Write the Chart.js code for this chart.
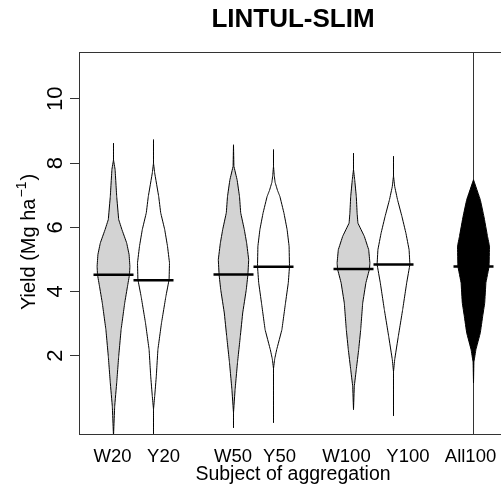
<!DOCTYPE html>
<html>
<head>
<meta charset="utf-8">
<script src="https://cdn.jsdelivr.net/npm/chart.js@4/dist/chart.umd.min.js"></script>
<style>
  html, body { margin: 0; padding: 0; background: #fff; overflow: hidden; }
  canvas { display: block; }
</style>
</head>
<body>
<canvas id="chart" width="520" height="491"></canvas>
<script>
const groups = ['W20', 'Y20', 'W50', 'Y50', 'W100', 'Y100', 'All100'];
const groupPos = [1, 2, 4, 5, 7, 8, 10];
const labelPos = [0.975, 2.25, 3.99, 5.15, 6.825, 8.36, 9.925];
const medians = [4.52, 4.35, 4.53, 4.77, 4.70, 4.84, 4.78];
const yTicks = [2, 4, 6, 8, 10];

// bean outlines: yield level and half width of the density at that level
const w20Yield = [-0.5, 0.43, 1.15, 1.98, 2.81, 3.64, 4.16, 4.52, 4.78, 5.15, 5.51, 5.93, 6.24, 6.96, 7.8, 8.1, 8.62];
const w20Dens = [0, 0.03, 0.08, 0.13, 0.19, 0.28, 0.35, 0.4, 0.41, 0.39, 0.33, 0.21, 0.13, 0.08, 0.04, 0, 0];
const y20Yield = [-0.5, 0.33, 0.74, 1.36, 2.19, 3.02, 3.85, 4.37, 4.89, 5.41, 5.93, 6.45, 6.96, 7.69, 8.0, 8.73];
const y20Dens = [0, 0, 0.03, 0.07, 0.11, 0.2, 0.31, 0.39, 0.4, 0.35, 0.28, 0.18, 0.13, 0.03, 0, 0];
const w50Yield = [-0.25, 0.22, 0.95, 1.78, 2.6, 3.33, 4.06, 4.52, 4.99, 5.5, 5.93, 6.45, 6.96, 7.48, 7.9, 8.57];
const w50Dens = [0, 0, 0.04, 0.1, 0.17, 0.23, 0.32, 0.36, 0.38, 0.33, 0.27, 0.18, 0.15, 0.09, 0.01, 0];
const y50Yield = [-0.09, 1.6, 1.9, 2.19, 2.81, 3.64, 4.27, 4.78, 5.41, 5.93, 6.45, 6.96, 7.15, 7.4, 7.6, 7.9, 8.42];
const y50Dens = [0, 0, 0.03, 0.08, 0.21, 0.3, 0.37, 0.4, 0.39, 0.34, 0.26, 0.16, 0.1, 0.04, 0.02, 0, 0];
const w100Yield = [0.32, 1.05, 1.57, 2.19, 2.81, 3.64, 4.27, 4.7, 4.89, 5.3, 5.72, 6.13, 6.45, 6.96, 7.48, 7.8, 8.31];
const w100Dens = [0, 0.02, 0.07, 0.13, 0.18, 0.23, 0.31, 0.4, 0.41, 0.38, 0.27, 0.11, 0.09, 0.07, 0.03, 0, 0];
const y100Yield = [0.12, 1.5, 1.88, 2.6, 3.44, 4.27, 4.84, 5.3, 5.82, 6.34, 6.86, 7.27, 7.6, 8.21];
const y100Dens = [0, 0, 0.03, 0.12, 0.23, 0.33, 0.41, 0.39, 0.31, 0.21, 0.1, 0.03, 0, 0];
const all100Yield = [1.15, 1.8, 2.19, 2.71, 3.23, 3.64, 4.27, 4.78, 5.41, 5.72, 6.34, 6.86, 7.48];
const all100Dens = [0, 0.01, 0.06, 0.17, 0.23, 0.28, 0.31, 0.39, 0.4, 0.35, 0.26, 0.17, 0];

const beanYield = [w20Yield, y20Yield, w50Yield, y50Yield, w100Yield, y100Yield, all100Yield];
const beanDens = [w20Dens, y20Dens, w50Dens, y50Dens, w100Dens, y100Dens, all100Dens];
const beanFill = ['#d3d3d3', '#ffffff', '#d3d3d3', '#ffffff', '#d3d3d3', '#ffffff', '#000000'];

const yMin = -0.44, yMax = 11.46;
const FONT = '"Liberation Sans", Arial, sans-serif';

Chart.defaults.font.family = FONT;
Chart.defaults.color = '#000';

// closed outline: up the right side, back down the left side
function outline(i) {
  const c = groupPos[i];
  const ys = beanYield[i], ds = beanDens[i];
  const right = ys.map((y, k) => ({ x: c + ds[k], y: y }));
  const left = ys.map((y, k) => ({ x: c - ds[k], y: y })).reverse();
  return right.concat(left);
}

const datasets = [];

medians.forEach((m, i) => {
  datasets.push({
    data: [{ x: groupPos[i] - 0.5, y: m }, { x: groupPos[i] + 0.5, y: m }],
    showLine: true, borderColor: '#000', borderWidth: 2.6,
    pointRadius: 0, fill: false, order: 0
  });
});

groups.forEach((g, i) => {
  datasets.push({
    label: g,
    data: outline(i),
    showLine: true, fill: 'shape',
    backgroundColor: beanFill[i], borderColor: '#000', borderWidth: 1,
    // a tiny tension keeps Chart.js off its x-sorted fast path for this closed outline
    pointRadius: 0, tension: 0.0001, order: 1
  });
});

// separator through the pooled bean
datasets.push({
  data: [{ x: groupPos[6], y: yMin }, { x: groupPos[6], y: yMax }],
  showLine: true, borderColor: '#333', borderWidth: 1,
  pointRadius: 0, fill: false, order: 2
});

const frameAndYText = {
  id: 'frameAndYText',
  afterDraw(chart) {
    const { ctx, chartArea: a, scales: { y } } = chart;
    ctx.save();
    ctx.strokeStyle = '#333';
    ctx.lineWidth = 1;
    const l = Math.floor(a.left) + 0.5, t = Math.floor(a.top) + 0.5;
    const r = Math.floor(a.right) + 0.5, b = Math.floor(a.bottom) + 0.5;
    ctx.strokeRect(l, t, r - l, b - t);

    ctx.fillStyle = '#000';
    ctx.textBaseline = 'alphabetic';
    ctx.textAlign = 'center';
    ctx.font = '22px ' + FONT;
    yTicks.forEach(v => {
      ctx.save();
      ctx.translate(62, y.getPixelForValue(v));
      ctx.rotate(-Math.PI / 2);
      ctx.fillText(String(v), 0, 0);
      ctx.restore();
    });

    const main = 'Yield (Mg ha', sup = '\u22121', close = ')';
    ctx.font = '20px ' + FONT;
    const w1 = ctx.measureText(main).width;
    const w3 = ctx.measureText(close).width;
    ctx.font = '14px ' + FONT;
    const w2 = ctx.measureText(sup).width;
    const x0 = -(w1 + w2 + w3) / 2;
    ctx.translate(35, (a.top + a.bottom) / 2);
    ctx.rotate(-Math.PI / 2);
    ctx.textAlign = 'left';
    ctx.font = '20px ' + FONT;
    ctx.fillText(main, x0, 0);
    ctx.font = '14px ' + FONT;
    ctx.fillText(sup, x0 + w1 + 1, -9);
    ctx.font = '20px ' + FONT;
    ctx.fillText(close, x0 + w1 + w2 + 2, 0);
    ctx.restore();
  }
};

new Chart(document.getElementById('chart'), {
  type: 'scatter',
  data: { datasets: datasets },
  options: {
    responsive: false,
    animation: false,
    events: [],
    indexAxis: 'y',
    layout: { padding: { left: 0, right: 13, top: 0, bottom: 0 } },
    plugins: {
      legend: { display: false },
      tooltip: { enabled: false },
      title: {
        display: true, text: 'LINTUL-SLIM', fullSize: false,
        font: { size: 26, weight: 'bold' }, color: '#000',
        padding: { top: 4, bottom: 16.8 }
      }
    },
    scales: {
      x: {
        // half-pixel offset so the bean centres land on pixel centres
        type: 'linear', min: 0.1375, max: 10.8375,
        afterBuildTicks: s => { s.ticks = labelPos.map(v => ({ value: v })); },
        ticks: {
          callback: v => groups[labelPos.indexOf(v)],
          font: { size: 18.5 }, color: '#000', padding: 4,
          maxRotation: 0, autoSkip: false
        },
        grid: { display: false },
        border: { display: false },
        title: {
          display: true, text: 'Subject of aggregation',
          font: { size: 19.5 }, color: '#000', padding: { top: 0, bottom: 5 }
        },
        afterFit: s => { s.height = 57; }
      },
      y: {
        type: 'linear', min: yMin, max: yMax,
        afterBuildTicks: s => { s.ticks = yTicks.map(v => ({ value: v })); },
        ticks: { display: false },
        grid: { drawOnChartArea: false, drawTicks: true, tickLength: 9, tickColor: '#333' },
        border: { display: false },
        afterFit: s => { s.width = 79; }
      }
    }
  },
  plugins: [frameAndYText]
});
</script>
</body>
</html>
